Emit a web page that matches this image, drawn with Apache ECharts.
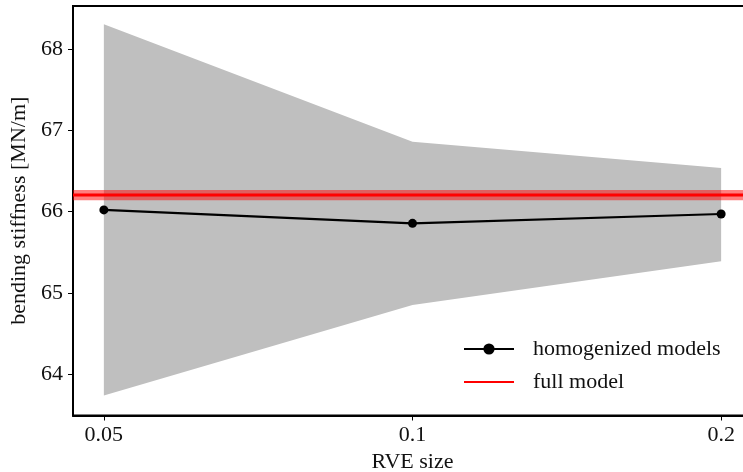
<!DOCTYPE html>
<html>
<head>
<meta charset="utf-8">
<script src="https://cdn.jsdelivr.net/npm/echarts@6/dist/echarts.min.js"></script>
<style>html,body{margin:0;padding:0;background:#fff}#c{width:743px;height:472px}</style>
</head>
<body>
<div id="c"></div>
<script>
// RVE sizes
const rveSizes = [0.05, 0.1, 0.2];
const xTickLabels = ['0.05', '0.1', '0.2'];
const yTicks = [64, 65, 66, 67, 68];
// homogenized models mean stiffness
const homogenized = [66.02, 65.855, 65.97];
// spread band (upper / lower)
const bandUpper = [68.305, 66.86, 66.535];
const bandLower = [63.735, 64.85, 65.39];
// full model
const fullModel = 66.203;
const fullModelSpread = 0.063;

const lx = rveSizes.map(v => Math.log2(v));
const xMin = lx[0] - 0.1, xMax = lx[lx.length - 1] + 0.1;
const FONT = 'Liberation Serif';
const FS = 22;

const chart = echarts.init(document.getElementById('c'));
chart.setOption({
  animation: false,
  grid: { left: 73, top: 6, right: -9, bottom: 56.5, show: true, borderColor: '#000', borderWidth: 2, backgroundColor: 'transparent', outerBoundsMode: 'none', containLabel: false },
  legend: {
    orient: 'vertical', left: 458, top: 333, itemWidth: 50, itemHeight: 14, itemGap: 11,
    textStyle: { fontFamily: FONT, fontSize: FS, color: '#111', padding: [0, 0, 0, 14] },
    data: ['homogenized models', { name: 'full model', itemStyle: { opacity: 0 } }]
  },
  xAxis: {
    type: 'value', min: xMin, max: xMax,
    name: 'RVE size', nameLocation: 'middle', nameGap: 33,
    nameTextStyle: { fontFamily: FONT, fontSize: FS, color: '#111' },
    axisLine: { show: true, lineStyle: { color: '#000', width: 2 } },
    axisTick: { show: true, length: 5, lineStyle: { color: '#000', width: 1 }, customValues: lx },
    axisLabel: { fontFamily: FONT, fontSize: FS, color: '#111', margin: 9, customValues: lx,
      formatter: v => { let b = 0; lx.forEach((t, i) => { if (Math.abs(t - v) < Math.abs(lx[b] - v)) b = i; }); return xTickLabels[b]; } },
    splitLine: { show: false }
  },
  yAxis: {
    type: 'value', min: 63.49, max: 68.53,
    name: 'bending stiffness [MN/m]', nameLocation: 'middle', nameGap: 32, nameRotate: 90,
    nameTextStyle: { fontFamily: FONT, fontSize: FS, color: '#111' },
    axisLine: { show: true, lineStyle: { color: '#000', width: 2 } },
    axisTick: { show: true, length: 5, lineStyle: { color: '#000', width: 1 }, customValues: yTicks },
    axisLabel: { fontFamily: FONT, fontSize: FS, color: '#111', margin: 10, customValues: yTicks },
    splitLine: { show: false }
  },
  series: [
    {
      type: 'custom', name: 'band', z: 0, silent: true,
      data: [0],
      renderItem: (params, api) => {
        const pts = [];
        for (let i = 0; i < lx.length; i++) pts.push(api.coord([lx[i], bandUpper[i]]));
        for (let i = lx.length - 1; i >= 0; i--) pts.push(api.coord([lx[i], bandLower[i]]));
        return { type: 'polygon', shape: { points: pts }, style: { fill: '#bfbfbf' } };
      }
    },
    {
      type: 'line', name: 'full model', z: 3, symbol: 'none',
      data: [[xMin, fullModel], [xMax, fullModel]],
      lineStyle: { color: '#ff0000', width: 3 }, itemStyle: { color: '#ff0000' },
      markArea: { silent: true, z: 3, itemStyle: { color: 'rgba(255,0,0,0.5)' },
        data: [[{ yAxis: fullModel - fullModelSpread }, { yAxis: fullModel + fullModelSpread }]] }
    },
    {
      type: 'line', name: 'homogenized models', z: 4,
      data: lx.map((x, i) => [x, homogenized[i]]),
      symbol: 'circle', symbolSize: 9, showSymbol: true,
      lineStyle: { color: '#000', width: 2.2 }, itemStyle: { color: '#000' }
    }
  ]
});
</script>
</body>
</html>
